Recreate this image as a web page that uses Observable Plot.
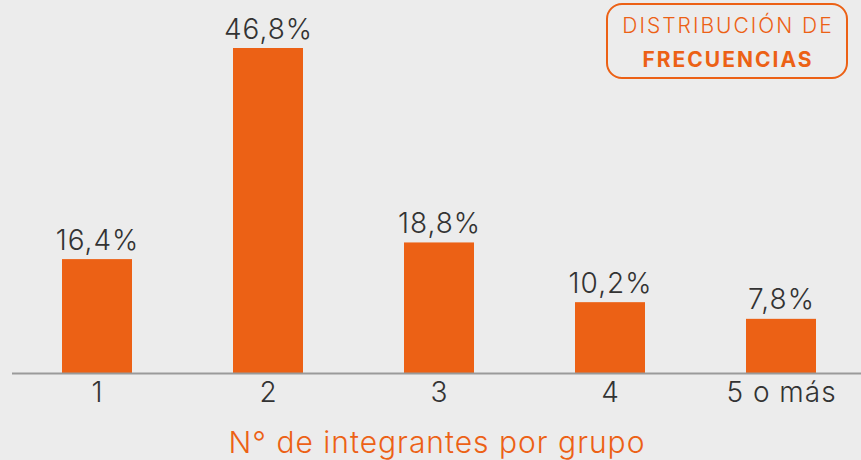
<!DOCTYPE html>
<html>
<head>
<meta charset="utf-8">
<script src="https://cdn.jsdelivr.net/npm/d3@7"></script>
<script src="https://cdn.jsdelivr.net/npm/@observablehq/plot@0.6"></script>
<style>
  html, body { margin: 0; padding: 0; background: #ececec; }
  #chart svg { display: block; background: #ececec; }
  #chart svg text { letter-spacing: 1px; }
</style>
</head>
<body>
<div id="chart"></div>
<script>
const categories = ["1", "2", "3", "4", "5 o más"];
const values = [16.4, 46.8, 18.8, 10.2, 7.8];
const valueLabels = ["16,4%", "46,8%", "18,8%", "10,2%", "7,8%"];
const xTitle = "N° de integrantes por grupo";
const boxLine1 = "DISTRIBUCIÓN DE";
const boxLine2 = "FRECUENCIAS";

const data = categories.map((c, i) => ({cat: c, value: values[i], label: valueLabels[i]}));

const orange = "#ec6115";
const font = "Inter, sans-serif";

const chart = Plot.plot({
  width: 861,
  height: 460,
  marginTop: 48,
  marginBottom: 87,
  marginLeft: 12,
  marginRight: 0,
  style: {background: "#ececec", fontFamily: font},
  x: {type: "band", domain: categories, range: [11, 868], paddingInner: 0.59, paddingOuter: 0.3},
  y: {domain: [0, 46.8], axis: null},
  marks: [
    Plot.barY(data, {x: "cat", y: "value", fill: orange}),
    Plot.ruleY([0], {stroke: "#9a9a9a", strokeWidth: 2}),
    Plot.text(data, {x: "cat", y: "value", text: "label", lineAnchor: "bottom", dy: -10, fontSize: 28, fill: "#333333", fontWeight: 300}),
    Plot.axisX({tickSize: 0, tickPadding: 9, fontSize: 28, fontWeight: 300, label: null, color: "#333333"}),
    Plot.text([xTitle], {frameAnchor: "bottom", dy: 70, lineAnchor: "middle", fontSize: 30, fontWeight: 300, fill: orange, textAnchor: "middle"})
  ]
});

document.getElementById("chart").appendChild(chart);

const svg = d3.select(chart);
const g = svg.append("g");
g.append("rect").attr("x", 607).attr("y", 4).attr("width", 240).attr("height", 74)
  .attr("rx", 15).attr("fill", "none").attr("stroke", orange).attr("stroke-width", 2);
g.append("text").attr("x", 728).attr("y", 33).attr("text-anchor", "middle")
  .attr("font-family", font).attr("font-size", 21).attr("font-weight", 300).attr("fill", orange)
  .style("letter-spacing", "2px").text(boxLine1);
g.append("text").attr("x", 728).attr("y", 67).attr("text-anchor", "middle")
  .attr("font-family", font).attr("font-size", 21).attr("font-weight", 700).attr("fill", orange)
  .style("letter-spacing", "2px").text(boxLine2);
</script>
</body>
</html>
